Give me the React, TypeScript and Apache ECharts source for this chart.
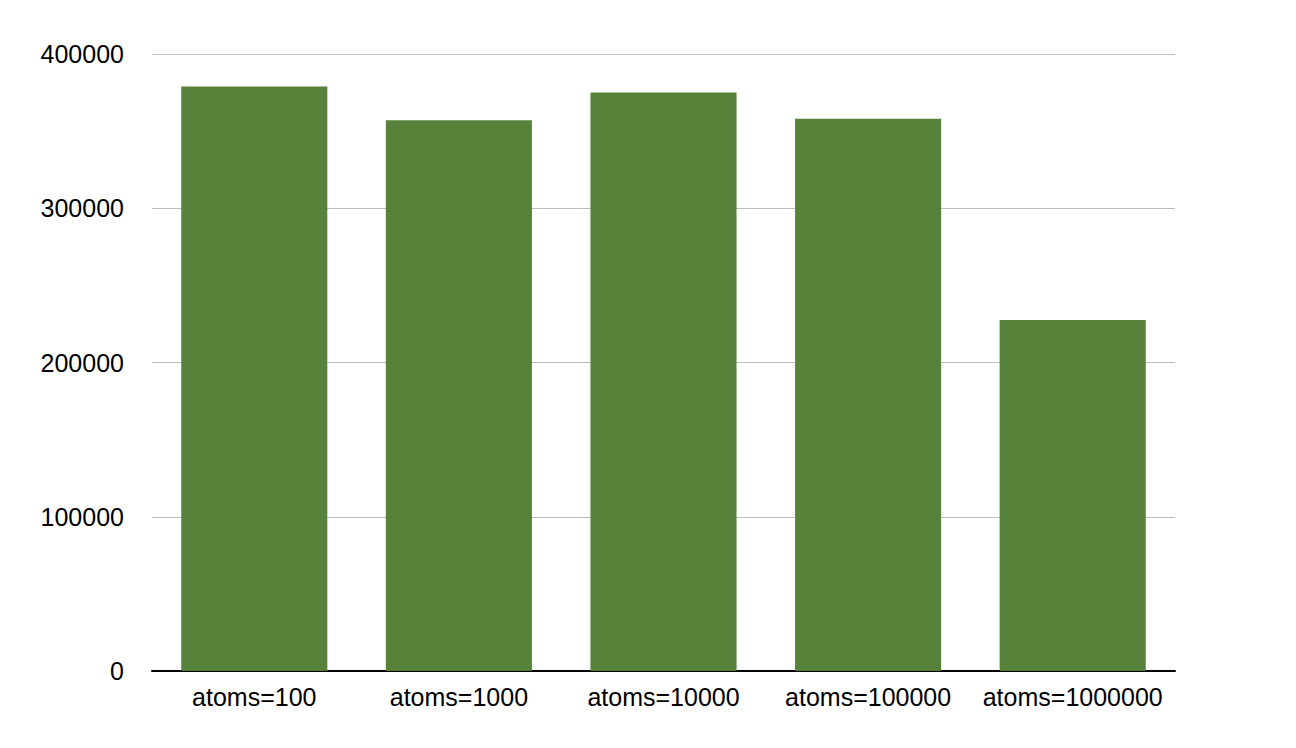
import React, { useEffect, useRef } from "react";
import * as echarts from "echarts";

const categories = ["atoms=100", "atoms=1000", "atoms=10000", "atoms=100000", "atoms=1000000"];
const values = [379000, 357000, 375000, 358000, 227500];
const yTicks = [0, 100000, 200000, 300000, 400000];

export default function App() {
  const ref = useRef<HTMLDivElement>(null);
  useEffect(() => {
    const chart = echarts.init(ref.current!, null, { renderer: "svg" });
    chart.setOption({
      animation: false,
      backgroundColor: "#ffffff",
      grid: { left: 152, right: 121, top: 54, bottom: 77, containLabel: false },
      xAxis: {
        type: "category",
        data: categories,
        axisLine: { show: true, lineStyle: { color: "#000000", width: 2 } },
        axisTick: { show: false },
        axisLabel: {
          interval: 0,
          color: "#000000",
          fontSize: 25,
          fontFamily: "Liberation Sans, Arial, sans-serif",
          margin: 13,
        },
      },
      yAxis: {
        type: "value",
        min: yTicks[0],
        max: yTicks[yTicks.length - 1],
        interval: 100000,
        axisLine: { show: false },
        axisTick: { show: false },
        splitLine: { show: true, lineStyle: { color: "#bdbdbd", width: 1 } },
        axisLabel: {
          color: "#000000",
          fontSize: 25,
          fontFamily: "Liberation Sans, Arial, sans-serif",
          margin: 28,
          formatter: (v: number) => String(v),
        },
      },
      series: [
        {
          type: "bar",
          data: values,
          barCategoryGap: "28.6%",
          itemStyle: { color: "#4f7d31", opacity: 0.96 },
        },
      ],
    });
    return () => chart.dispose();
  }, []);
  return (
    <div
      ref={ref}
      style={{ position: "fixed", left: 0, top: 0, width: 1296, height: 748 }}
    />
  );
}
